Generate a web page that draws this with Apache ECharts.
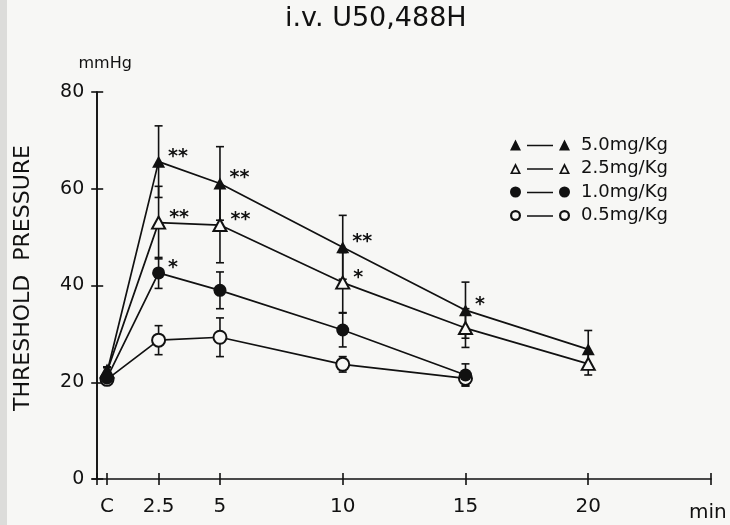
<!DOCTYPE html>
<html>
<head>
<meta charset="utf-8">
<style>
  html, body { margin: 0; padding: 0; background: #f7f7f5; }
  #chart { width: 730px; height: 525px; }
</style>
<script src="https://cdn.jsdelivr.net/npm/echarts@6/dist/echarts.min.js"></script>
</head>
<body>
<div id="chart"></div>
<script>
// ---- data ----
const titleText = 'i.v. U50,488H';
const yTitle = 'THRESHOLD  PRESSURE';
const yUnit = 'mmHg';
const xUnit = 'min';

const timePoints   = [0.4, 2.5, 5, 10, 15, 20];      // C, 2.5, 5, 10, 15, 20 min
const xTickValues  = [0, 0.4, 2.5, 5, 10, 15, 20, 25];
const xLabelValues = [0.4, 2.5, 5, 10, 15, 20];
const xTickLabels  = ['C', '2.5', '5', '10', '15', '20'];

const doseNames = ['5.0mg/Kg', '2.5mg/Kg', '1.0mg/Kg', '0.5mg/Kg'];

const mean50 = [22.0, 65.6, 61.1, 47.9, 34.9, 26.8];
const se50   = [1.0, 7.4, 7.6, 6.6, 5.8, 3.9];
const sig50  = ['', '**', '**', '**', '*', ''];

const mean25 = [22.2, 53.0, 52.5, 40.6, 31.2, 23.8];
const se25   = [1.0, 7.5, 7.8, 6.2, 4.0, 2.3];
const sig25  = ['', '**', '**', '*', '', ''];

const mean10 = [20.9, 42.6, 39.0, 30.8, 21.5];
const se10   = [1.0, 3.2, 3.8, 3.5, 2.3];
const sig10  = ['', '*', '', '', ''];

const mean05 = [20.6, 28.7, 29.3, 23.7, 20.8];
const se05   = [1.0, 3.0, 4.0, 1.6, 1.5];
const sig05  = ['', '', '', '', ''];

// ---- styling ----
const INK = '#111';
const PAPER = '#f7f7f5';
const FONT = '"DejaVu Sans"';

function pairs(means) { return means.map((m, i) => [timePoints[i], m]); }
function triples(means, ses) { return means.map((m, i) => [timePoints[i], m, ses[i]]); }

function renderErr(params, api) {
  const x = api.value(0), m = api.value(1), s = api.value(2);
  const hi = api.coord([x, m + s]);
  const lo = api.coord([x, m - s]);
  const w = 4;
  const st = { stroke: INK, lineWidth: 1.6 };
  return {
    type: 'group',
    children: [
      { type: 'line', shape: { x1: hi[0], y1: hi[1], x2: lo[0], y2: lo[1] }, style: st },
      { type: 'line', shape: { x1: hi[0] - w, y1: hi[1], x2: hi[0] + w, y2: hi[1] }, style: st },
      { type: 'line', shape: { x1: lo[0] - w, y1: lo[1], x2: lo[0] + w, y2: lo[1] }, style: st }
    ]
  };
}

function lineSeries(name, means, sig, symbol, filled, z) {
  return {
    name: name,
    type: 'line',
    data: pairs(means),
    symbol: symbol,
    symbolSize: symbol === 'triangle' ? [13, 12] : 13,
    z: z,
    lineStyle: { color: INK, width: 1.7 },
    itemStyle: filled
      ? { color: INK, borderWidth: 0 }
      : { color: PAPER, borderColor: INK, borderWidth: 2 },
    label: {
      show: true,
      position: 'right',
      distance: 3,
      offset: [0, -5],
      formatter: p => sig[p.dataIndex] || '',
      color: INK,
      fontSize: 19,
      fontWeight: 'bold',
      fontFamily: FONT
    },
    emphasis: { disabled: true },
    animation: false
  };
}

function errSeries(means, ses) {
  return {
    type: 'custom',
    renderItem: renderErr,
    data: triples(means, ses),
    encode: { x: 0, y: 1 },
    z: 1,
    silent: true,
    animation: false
  };
}

// legend icons (marker — marker), 60 x 11 box
const triF = x0 => `M${x0} 11 L${x0 + 5.5} 0 L${x0 + 11} 11 Z`;
const triO = x0 => `M${x0} 11 L${x0 + 5.5} 0 L${x0 + 11} 11 Z M${x0 + 2.7} 9.5 L${x0 + 8.3} 9.5 L${x0 + 5.5} 4 Z`;
const cirF = x0 => `M${x0} 5.5 A5.5 5.5 0 1 1 ${x0 + 11} 5.5 A5.5 5.5 0 1 1 ${x0} 5.5 Z`;
const cirO = x0 => cirF(x0) + ` M${x0 + 2.2} 5.5 A3.3 3.3 0 1 0 ${x0 + 8.8} 5.5 A3.3 3.3 0 1 0 ${x0 + 2.2} 5.5 Z`;
const dash = 'M17 5.2 L43 5.2 L43 6.8 L17 6.8 Z';
const iconOf = f => 'path://' + f(0) + ' ' + dash + ' ' + f(49);

const chart = echarts.init(document.getElementById('chart'), null, { renderer: 'canvas' });

const axisLineStyle = { color: INK, width: 1.6 };

chart.setOption({
  backgroundColor: PAPER,
  animation: false,
  title: {
    text: titleText,
    left: 285,
    top: 5,
    padding: 0,
    textStyle: { fontFamily: FONT, fontSize: 27, fontWeight: 'normal', color: INK }
  },
  graphic: [
    { type: 'rect', left: 0, top: 0, shape: { width: 7, height: 525 }, style: { fill: '#dcdcda' }, silent: true },
    {
      type: 'text', x: 23, y: 278, rotation: Math.PI / 2,
      style: { text: yTitle, font: '22px ' + FONT, fill: INK, align: 'center', verticalAlign: 'middle' },
      silent: true
    }
  ],
  legend: {
    orient: 'vertical',
    left: 505,
    top: 131,
    itemWidth: 60,
    itemHeight: 11,
    itemGap: 5.5,
    selectedMode: false,
    textStyle: { fontFamily: FONT, fontSize: 18, lineHeight: 18, color: INK, padding: [0, 0, 0, 6] },
    data: [
      { name: doseNames[0], icon: iconOf(triF), itemStyle: { color: INK, borderWidth: 0 } },
      { name: doseNames[1], icon: iconOf(triO), itemStyle: { color: INK, borderWidth: 0 } },
      { name: doseNames[2], icon: iconOf(cirF), itemStyle: { color: INK, borderWidth: 0 } },
      { name: doseNames[3], icon: iconOf(cirO), itemStyle: { color: INK, borderWidth: 0 } }
    ]
  },
  grid: { left: 92.3, right: 19, top: 92, bottom: 46, containLabel: false },
  xAxis: [
    {
      type: 'value', min: -0.2, max: 25, position: 'bottom',
      name: xUnit, nameLocation: 'end', nameGap: -22,
      nameTextStyle: { fontFamily: FONT, fontSize: 20, color: INK, verticalAlign: 'top', padding: [24, 0, 0, 0] },
      axisLine: { show: true, onZero: true, lineStyle: axisLineStyle },
      axisTick: { show: true, inside: false, length: 6, lineStyle: axisLineStyle, customValues: xTickValues },
      axisLabel: {
        show: true, margin: 18, color: INK, fontFamily: FONT, fontSize: 20,
        customValues: xLabelValues,
        formatter: v => { const i = xLabelValues.indexOf(v); return i >= 0 ? xTickLabels[i] : ''; }
      },
      splitLine: { show: false }
    },
    {
      type: 'value', min: -0.2, max: 25, position: 'bottom',
      axisLine: { show: false, onZero: true },
      axisTick: { show: true, inside: true, length: 6, lineStyle: axisLineStyle, customValues: xTickValues },
      axisLabel: { show: false },
      splitLine: { show: false }
    }
  ],
  yAxis: [
    {
      type: 'value', min: 0, max: 80, interval: 20, position: 'left',
      name: yUnit, nameLocation: 'end', nameGap: 20,
      nameTextStyle: { fontFamily: FONT, fontSize: 16, color: INK, padding: [0, 0, 0, 16] },
      axisLine: { show: true, onZero: true, lineStyle: axisLineStyle },
      axisTick: { show: true, inside: false, length: 6, lineStyle: axisLineStyle },
      axisLabel: { show: true, margin: 8, color: INK, fontFamily: FONT, fontSize: 19 },
      splitLine: { show: false }
    },
    {
      type: 'value', min: 0, max: 80, interval: 20, position: 'left',
      axisLine: { show: true, onZero: true, lineStyle: axisLineStyle },
      axisTick: { show: true, inside: true, length: 6, lineStyle: axisLineStyle },
      axisLabel: { show: false },
      splitLine: { show: false }
    }
  ],
  series: [
    errSeries(mean50, se50),
    errSeries(mean25, se25),
    errSeries(mean10, se10),
    errSeries(mean05, se05),
    lineSeries(doseNames[3], mean05, sig05, 'circle', false, 3),
    lineSeries(doseNames[1], mean25, sig25, 'triangle', false, 4),
    lineSeries(doseNames[0], mean50, sig50, 'triangle', true, 5),
    lineSeries(doseNames[2], mean10, sig10, 'circle', true, 6)
  ]
});
</script>
</body>
</html>
